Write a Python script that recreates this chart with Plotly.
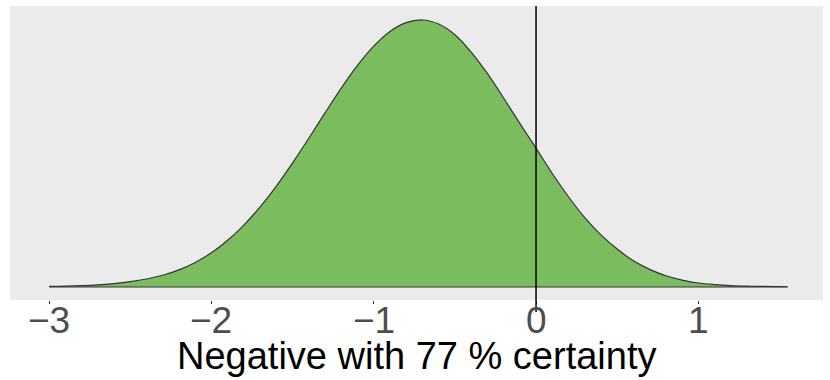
import plotly.graph_objects as go

# Density curve (x value, relative density; peak = 1)
x_vals = [-3.0, -2.9, -2.8, -2.7, -2.6, -2.5, -2.4, -2.3, -2.2, -2.1,
          -2.0, -1.9, -1.8, -1.7, -1.6, -1.5, -1.4, -1.3, -1.2, -1.1,
          -1.0, -0.9, -0.8, -0.7, -0.6, -0.5, -0.4, -0.3, -0.2, -0.1,
          0.0, 0.1, 0.2, 0.3, 0.4, 0.5, 0.6, 0.7, 0.8, 0.9,
          1.0, 1.1, 1.2, 1.3, 1.4, 1.55]
density = [0.002, 0.003, 0.005, 0.008, 0.013, 0.020, 0.030, 0.044, 0.064, 0.092,
           0.128, 0.175, 0.232, 0.300, 0.378, 0.465, 0.557, 0.652, 0.745, 0.830,
           0.902, 0.957, 0.990, 1.000, 0.985, 0.945, 0.880, 0.800, 0.708, 0.613,
           0.520, 0.425, 0.338, 0.260, 0.195, 0.142, 0.098, 0.066, 0.042, 0.026,
           0.015, 0.009, 0.005, 0.003, 0.002, 0.001]
tick_vals = [-3, -2, -1, 0, 1]
tick_text = ["\u22123", "\u22122", "\u22121", "0", "1"]
x_title = "Negative with 77 % certainty"

fig = go.Figure()
fig.add_trace(go.Scatter(
    x=x_vals, y=density, mode="lines",
    line=dict(color="#333333", width=1.2, shape="spline", smoothing=1.0),
    fill="tozeroy", fillcolor="#7BBD5E", hoverinfo="skip", showlegend=False))
fig.add_trace(go.Scatter(
    x=[x_vals[0], x_vals[-1]], y=[0, 0], mode="lines",
    line=dict(color="#333333", width=1.2), hoverinfo="skip", showlegend=False))

fig.add_shape(type="line", xref="x", yref="paper", x0=0, x1=0, y0=-0.041, y1=1,
              line=dict(color="black", width=1.5))

annotations = []
for v, t in zip(tick_vals, tick_text):
    annotations.append(dict(text=t, xref="x", yref="paper", x=v, y=-0.0714,
                            xanchor="center", yanchor="middle", showarrow=False,
                            font=dict(size=37, color="#4D4D4D")))
annotations.append(dict(text=x_title, xref="paper", yref="paper", x=0.5, y=-0.19,
                        xanchor="center", yanchor="middle", showarrow=False,
                        font=dict(size=38, color="black")))

fig.update_layout(
    width=830, height=380,
    margin=dict(l=10, r=7, t=6, b=80, autoexpand=False),
    paper_bgcolor="white", plot_bgcolor="#EBEBEB",
    font=dict(family="Liberation Sans, Arial, sans-serif"),
    xaxis=dict(range=[-3.241, 1.768], tickvals=tick_vals, showticklabels=False,
               showgrid=False, zeroline=False, showline=False, automargin=False,
               ticks="outside", ticklen=3, tickwidth=1, tickcolor="#333333"),
    yaxis=dict(range=[-0.0487, 1.0524], showgrid=False, zeroline=False, automargin=False,
               showticklabels=False, ticks="", showline=False),
    annotations=annotations,
)

fig.write_html("out.html", config={"displayModeBar": False},
               post_script="document.body.style.margin='0px';document.body.style.overflow='hidden';")
